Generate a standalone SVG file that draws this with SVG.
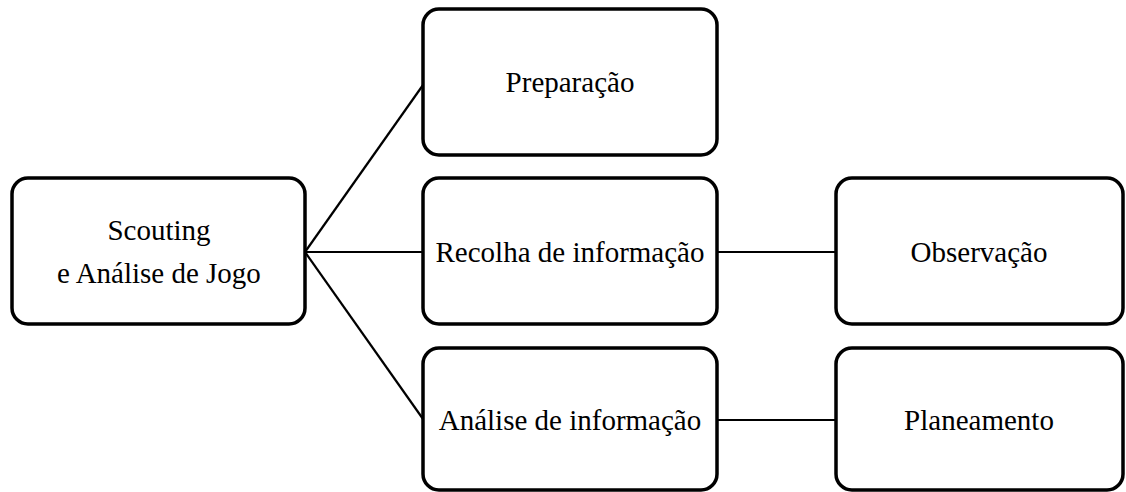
<svg xmlns="http://www.w3.org/2000/svg" width="1126" height="492" viewBox="0 0 1126 492">
<style>
.box{fill:#fff;stroke:#000;stroke-width:3.5}
.lbl{font-size:29px;fill:#000;text-anchor:middle}
.con{stroke:#000;stroke-width:2.2;fill:none}
</style>
<rect width="1126" height="492" fill="#fff"/>
<g id="connectors">
<line class="con" x1="305" y1="252" x2="423" y2="85"/>
<line class="con" x1="305" y1="252" x2="423" y2="252"/>
<line class="con" x1="305" y1="252" x2="423" y2="419"/>
<line class="con" x1="717" y1="252" x2="836" y2="252"/>
<line class="con" x1="717" y1="420" x2="836" y2="420"/>
</g>
<g font-family="Liberation Serif, Tinos, Times New Roman, DejaVu Serif, serif">
<g id="scouting">
<rect class="box" x="12" y="178" width="293" height="146" rx="16"/>
<text class="lbl" x="159" y="240">Scouting</text>
<text class="lbl" x="159" y="283">e Análise de Jogo</text>
</g>
<g id="preparacao">
<rect class="box" x="423" y="9" width="294" height="146" rx="16"/>
<text class="lbl" x="570" y="92">Preparação</text>
</g>
<g id="recolha">
<rect class="box" x="423" y="178" width="294" height="146" rx="16"/>
<text class="lbl" x="570" y="262">Recolha de informação</text>
</g>
<g id="observacao">
<rect class="box" x="836" y="178" width="287" height="146" rx="16"/>
<text class="lbl" x="979" y="262">Observação</text>
</g>
<g id="analise">
<rect class="box" x="423" y="348" width="294" height="142" rx="16"/>
<text class="lbl" x="570" y="430">Análise de informação</text>
</g>
<g id="planeamento">
<rect class="box" x="836" y="348" width="287" height="142" rx="16"/>
<text class="lbl" x="979" y="430">Planeamento</text>
</g>
</g>
</svg>
